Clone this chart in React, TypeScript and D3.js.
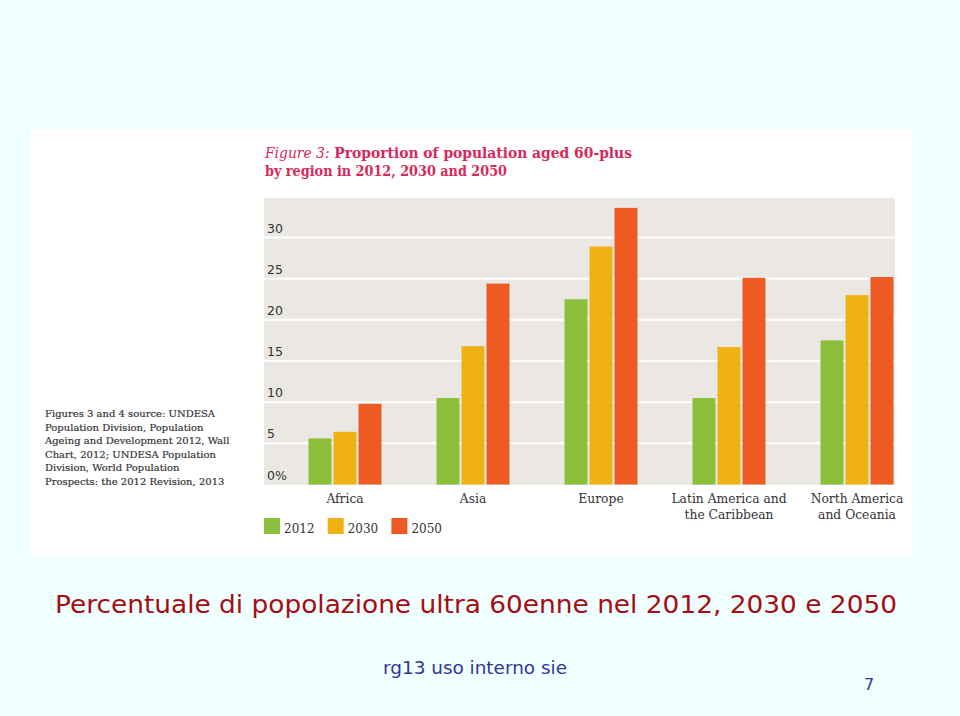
import React from "react";
import * as d3 from "d3";

const regions = ["Africa", "Asia", "Europe", "Latin America and|the Caribbean", "North America|and Oceania"];
const years = ["2012", "2030", "2050"];
const values2012 = [5.6, 10.5, 22.5, 10.5, 17.5];
const values2030 = [6.4, 16.8, 28.9, 16.7, 23.0];
const values2050 = [9.8, 24.4, 33.6, 25.1, 25.2];
const yTicks = [0, 5, 10, 15, 20, 25, 30];
const colors = ["#8bbe3d", "#f0b113", "#ee5a24"];
const sourceLines = [
  "Figures 3 and 4 source: UNDESA",
  "Population Division, Population",
  "Ageing and Development 2012, Wall",
  "Chart, 2012; UNDESA Population",
  "Division, World Population",
  "Prospects: the 2012 Revision, 2013",
];

export default function App() {
  const series = [values2012, values2030, values2050];
  const plotLeft = 264, plotRight = 895, plotTop = 198, plotBottom = 485;
  const y = d3.scaleLinear().domain([0, 30]).range([484.5, 237.5]);
  const x0 = d3.scaleBand<string>().domain(regions).range([281, 921]).padding(0);
  const x1 = d3.scaleBand<string>().domain(years).range([-36.5, 36.5]).paddingInner(0.08).paddingOuter(0);
  const serif = "'DejaVu Serif', serif";
  const sans = "'DejaVu Sans', Verdana, sans-serif";

  return (
    <svg width={960} height={716} style={{ position: "absolute", left: 0, top: 0 }}>
      <rect x={0} y={0} width={960} height={716} fill="#f0ffff" />
      <rect x={30} y={129} width={883} height={428} fill="#ffffff" />

      {/* figure title */}
      <text x={265} y={158} fontFamily={serif} fontSize={15} fill="#d8285a" textLength={367} lengthAdjust="spacingAndGlyphs">
        <tspan fontStyle="italic">Figure 3:</tspan>
        <tspan fontWeight="bold"> Proportion of population aged 60-plus</tspan>
      </text>
      <text x={265} y={176} fontFamily={serif} fontSize={15} fontWeight="bold" fill="#d8285a" textLength={242} lengthAdjust="spacingAndGlyphs">
        by region in 2012, 2030 and 2050
      </text>

      {/* source note */}
      {sourceLines.map((l, i) => (
        <text key={i} x={45} y={417 + i * 13.6} fontFamily={serif} fontSize={10} fill="#333333" stroke="#333333" strokeWidth={0.2}>
          {l}
        </text>
      ))}

      {/* plot area */}
      <rect x={plotLeft} y={plotTop} width={plotRight - plotLeft} height={plotBottom - plotTop} fill="#ebe8e4" />
      {yTicks.filter((t) => t > 0).map((t) => (
        <line key={t} x1={plotLeft} x2={plotRight} y1={y(t)} y2={y(t)} stroke="#ffffff" strokeWidth={2} />
      ))}
      {yTicks.map((t) => (
        <text key={"l" + t} x={267} y={y(t) - 5} fontFamily={sans} fontSize={12.5} fill="#333333">
          {t === 0 ? "0%" : String(t)}
        </text>
      ))}

      {regions.map((r, i) => (
        <g key={r} transform={`translate(${(x0(r) as number) + x0.bandwidth() / 2},0)`}>
          {years.map((yr, j) => (
            <rect
              key={yr}
              x={x1(yr) as number}
              y={y(series[j][i])}
              width={x1.bandwidth()}
              height={y(0) - y(series[j][i])}
              fill={colors[j]}
            />
          ))}
          {r.split("|").map((line, k) => (
            <text key={k} x={0} y={503 + k * 16} textAnchor="middle" fontFamily={serif} fontSize={12.3} fill="#333333">
              {line}
            </text>
          ))}
        </g>
      ))}

      {/* legend */}
      {years.map((yr, j) => (
        <g key={yr} transform={`translate(${264 + j * 63.7},518)`}>
          <rect x={0} y={0} width={16} height={16} fill={colors[j]} />
          <text x={20} y={15} fontFamily={serif} fontSize={12} fill="#333333">
            {yr}
          </text>
        </g>
      ))}

      {/* slide texts */}
      <text x={55} y={613} fontFamily={sans} fontSize={24} fill="#a50d12" textLength={842} lengthAdjust="spacingAndGlyphs">
        Percentuale di popolazione ultra 60enne nel 2012, 2030 e 2050
      </text>
      <text x={383} y={674} fontFamily={sans} fontSize={18} fill="#333399" textLength={184} lengthAdjust="spacingAndGlyphs">
        rg13 uso interno sie
      </text>
      <text x={864} y={690} fontFamily={sans} fontSize={16} fill="#333399">
        7
      </text>
    </svg>
  );
}
